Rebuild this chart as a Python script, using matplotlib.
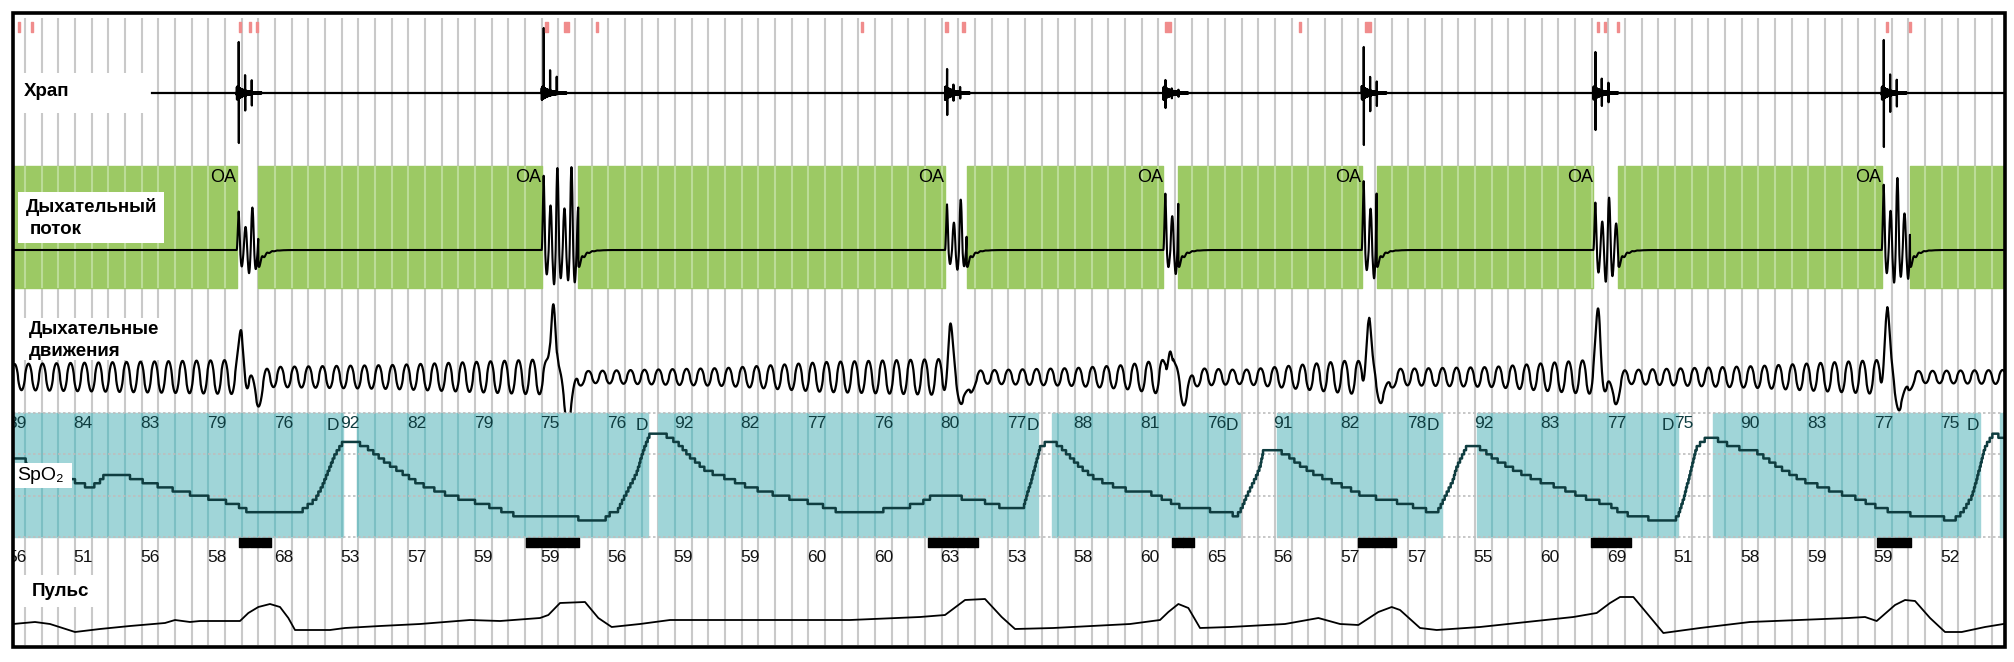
import numpy as np
import matplotlib
matplotlib.use("Agg")
import matplotlib.pyplot as plt

plt.rcParams['font.family'] = ['Liberation Sans', 'DejaVu Sans']

W, H, DPI = 2015, 662, 100
PX_PER_T = 16.667      # one grid division, pixels
X0_PX = 25             # first grid line, pixels


def px_to_t(px):
    return (px - X0_PX) / PX_PER_T


T0, T1 = px_to_t(13), px_to_t(2004)
grid_t = np.arange(0, 119)

# ---------------- data (time in grid divisions) ----------------
event_gaps = [(12.7, 14.0), (31.0, 33.2), (55.2, 56.5), (68.3, 69.2),
              (80.2, 81.1), (94.1, 95.6), (111.4, 113.1)]
flow_up = [43, 83, 51, 63, 77, 53, 73]
flow_down = [27, 40, 23, 28, 33, 37, 38]

snore_start = 7.62
snore_up = [51, 65, 24, 13, 46, 41, 53]
snore_down = [50, 5, 22, 15, 52, 37, 54]
red_marks_t = [-0.36, 0.42, 12.9, 13.5, 13.9, 31.3, 32.5, 34.3, 50.2, 55.3,
               56.3, 68.6, 76.5, 80.6, 94.4, 94.8, 95.6, 111.7, 113.1]
red_marks_w = [0.12, 0.12, 0.15, 0.12, 0.12, 0.18, 0.3, 0.12, 0.12, 0.2,
               0.15, 0.35, 0.12, 0.35, 0.12, 0.12, 0.12, 0.12, 0.12]

move_amp = [(-0.72, 13), (12.4, 17), (14.6, 10), (22, 12), (30.8, 17.5),
            (33.8, 6), (42, 9), (48, 15), (55.0, 18), (57.0, 6.5), (63, 9),
            (66, 12), (68.2, 17), (70, 9), (73, 7), (79.8, 17), (81.8, 8),
            (88, 10), (93.8, 17), (96.2, 7), (104, 11), (111.2, 17),
            (113.6, 6), (118.7, 7)]
move_spike_t = [13.0, 31.7, 55.5, 68.7, 80.6, 94.4, 111.7]
move_spike = [40, 87, 44, 40, 61, 57, 69]
move_dip = [20, 36, 25, 18, 20, 22, 28]

spo2_gaps = [(19.1, 19.9), (37.4, 38.0), (60.8, 61.6), (72.9, 75.1),
             (85.0, 87.1), (99.2, 101.3), (117.3, 118.5)]
desat_label_t = [18.5, 37.0, 60.45, 72.4, 84.5, 98.55, 116.9]
spo2_readings = [
    (-0.72, 89), (0.0, 89), (0.2, 85), (2.7, 84), (3.3, 83), (3.9, 82), (4.4, 83),
    (4.8, 85), (6.0, 85), (6.6, 84), (7.5, 83), (8.4, 82), (9.3, 81), (10.5, 80),
    (11.5, 79), (12.6, 78), (13.5, 76), (16.5, 76), (16.8, 77), (17.4, 79),
    (17.8, 82), (18.3, 87), (18.6, 90), (19.1, 93), (19.8, 93),
    (20.4, 92), (21.7, 88), (23.6, 83), (25.5, 80), (27.5, 78), (29.3, 75.5),
    (31.5, 75), (33.1, 75), (33.3, 74), (34.7, 74), (35.2, 76), (35.5, 76),
    (36.0, 80), (36.7, 85.5), (37.1, 91), (37.5, 95), (38.3, 95),
    (39.1, 93), (39.9, 89.5), (40.9, 86), (42.3, 84), (43.5, 82), (45.3, 80),
    (47.5, 78), (49.4, 75.5), (50.7, 76), (51.5, 76.5), (52.5, 77), (53.7, 78),
    (54.5, 80), (55.9, 80), (56.5, 79), (57.2, 79), (58.0, 78), (58.9, 77),
    (59.9, 77), (60.1, 80), (60.4, 84), (60.7, 88.6), (60.9, 91.5), (61.3, 93),
    (61.7, 93),
    (62.1, 92), (62.7, 89.5), (63.3, 87), (64.1, 84.5), (64.9, 83), (66.1, 81.4),
    (67.5, 80.6), (68.5, 79), (69.5, 77), (71.1, 76.5), (72.3, 75.8), (72.7, 75),
    (73.0, 77), (73.3, 80), (73.8, 84), (74.1, 87), (74.3, 91), (75.1, 91),
    (75.7, 90), (76.3, 88), (77.3, 85.5), (78.1, 84), (79.3, 82), (80.3, 80),
    (81.2, 79.4), (82.0, 78.7), (82.8, 78.2), (83.6, 77), (84.7, 75.8), (85.0, 78),
    (85.3, 80.6), (85.7, 84), (85.9, 87), (86.2, 89.4), (86.5, 92), (87.1, 92),
    (87.5, 91), (88.3, 88.6), (89.4, 86.2), (90.7, 83.8), (92.1, 82), (93.5, 79.7),
    (95.1, 77.7), (95.7, 76), (96.8, 74.8), (98.2, 74.1), (98.9, 73.6), (99.2, 75.3),
    (99.5, 79), (99.8, 83.8), (100.1, 88.6), (100.3, 91.8), (100.9, 94), (101.3, 94),
    (102.5, 91.8), (103.9, 90.6), (105.2, 87), (106.6, 83.8), (108.3, 81.4),
    (109.9, 79.4), (111.3, 77), (112.4, 75.8), (114.8, 74.8), (115.7, 74),
    (116.2, 75.8), (116.8, 79.7), (117.3, 87), (117.6, 91.8), (118.1, 95), (118.7, 94),
]
spo2_labels = [89, 84, 83, 79, 76, 92, 82, 79, 75, 76, 92, 82, 77, 76, 80,
               77, 88, 81, 76, 91, 82, 78, 92, 83, 77, 75, 90, 83, 77, 75]
label_t = np.arange(30) * 4 - 0.5

desat_bars = [(12.84, 14.82, 3), (30.06, 33.3, 4), (54.2, 57.2, 4), (68.8, 70.2, 2),
              (80.0, 82.3, 3), (93.96, 96.4, 3), (111.1, 113.2, 2)]

pulse_labels = [56, 51, 56, 58, 68, 53, 57, 59, 59, 56, 59, 59, 60, 60, 63,
                53, 58, 60, 65, 56, 57, 57, 55, 60, 69, 51, 58, 59, 59, 52]
pulse_readings = [
    (-0.72, 55.5), (0.6, 56.5), (1.5, 55.5), (3.0, 51.5), (4.5, 53), (6.3, 54.5),
    (8.4, 56), (9.0, 57.5), (9.9, 56.5), (10.5, 57), (12.9, 57), (13.4, 61),
    (14.0, 64), (14.7, 65.5), (15.3, 64), (15.8, 58.5), (16.2, 52.5), (18.3, 52.5),
    (19.2, 53.5), (21.3, 54.5), (23.7, 55.5), (26.7, 57.5), (28.5, 57), (30.9, 58.5),
    (31.4, 60), (32.1, 66), (33.6, 66.5), (34.4, 58.5), (35.2, 54), (36.9, 55.5),
    (38.7, 57.5), (43.5, 57.5), (49.5, 57.5), (53.7, 59), (55.2, 60), (56.4, 67.5),
    (57.6, 68), (58.6, 59), (59.4, 53), (61.7, 53.5), (66.3, 55.5), (68.1, 57.5),
    (68.6, 61.5), (69.2, 65.5), (69.8, 63.5), (70.5, 53.5), (72.3, 54), (75.6, 55.5),
    (77.6, 58.5), (78.9, 55.5), (80.0, 55), (81.2, 61.5), (82.0, 64), (82.5, 62.5),
    (83.7, 53.5), (84.7, 52.5), (87.3, 54), (92.9, 59), (94.3, 61), (95.1, 66),
    (95.7, 69), (96.5, 69), (97.3, 61), (98.3, 51), (100.5, 53.5), (103.5, 56.5),
    (109.4, 58.5), (110.4, 59), (111.1, 57), (112.2, 65), (112.8, 67.5), (113.4, 67),
    (114.3, 58.5), (115.2, 51.5), (116.2, 51.5), (117.6, 54), (118.7, 55.5),
]

GREEN, GREEN_LINE = '#9cc964', '#bcdc98'
TEAL, TEAL_LINE = '#a0d5d8', '#7cbfc3'
GRID = '#c9c9c9'
DARK = '#0f3d40'


def segments_between(gaps):
    edges = [T0] + [v for g in gaps for v in g] + [T1]
    return [(edges[i], edges[i + 1]) for i in range(0, len(edges), 2)]


fig = plt.figure(figsize=(W / DPI, H / DPI), dpi=DPI)

bg = fig.add_axes([0, 0, 1, 1], zorder=0)
bg.set_xlim(px_to_t(0), px_to_t(W))
bg.set_ylim(H, 0)
bg.axis('off')
bg.vlines(grid_t, 18, 645, color=GRID, lw=1.5)


def track(top, bottom, ylim, z):
    ax = fig.add_axes([13 / W, 1 - bottom / H, (2004 - 13) / W, (bottom - top) / H], zorder=z)
    ax.set_xlim(T0, T1)
    ax.set_ylim(*ylim)
    ax.patch.set_alpha(0)
    ax.axis('off')
    return ax


def band_with_grid(ax, segs, lo, hi, color, line_color):
    ax.broken_barh([(a, b - a) for a, b in segs], (lo, hi - lo), color=color, zorder=1)
    for a, b in segs:
        tl = grid_t[(grid_t > a) & (grid_t < b)]
        ax.vlines(tl, lo, hi, color=line_color, lw=1.5, zorder=2)


# ---- snore ----
ax_sn = track(15, 160, (-67, 78), 2)
ts = np.arange(snore_start, T1, 0.004)
ys = np.zeros_like(ts)
for (g0, g1), up, dn in zip(event_gaps, snore_up, snore_down):
    m = (ts >= g0) & (ts <= g0 + 1.5)
    ys[m] += 7 * np.exp(-(ts[m] - g0) / 0.5) * np.sin(2 * np.pi * ts[m] / 0.021)
    i = np.searchsorted(ts, g0 + 0.12)
    ys[i], ys[i + 2] = up, -dn
    for k, f in ((0.5, 0.35), (0.9, 0.25)):
        j = np.searchsorted(ts, g0 + k)
        ys[j], ys[j + 2] = f * up, -f * dn
ax_sn.plot(ts, ys, color='k', lw=1.6, zorder=3)
ax_sn.broken_barh([(t - w / 2, w) for t, w in zip(red_marks_t, red_marks_w)], (61, 10),
                  color='#f08c8c', zorder=3)

# ---- flow ----
ax_fl = track(150, 300, (-50, 100), 3)
band_with_grid(ax_fl, segments_between(event_gaps), -38, 84, GREEN, GREEN_LINE)
tf = np.arange(T0, T1, 0.005)
yf = np.zeros_like(tf)
for (g0, g1), up, dn in zip(event_gaps, flow_up, flow_down):
    m = (tf >= g0) & (tf <= g1)
    s = np.sin(2 * np.pi * (tf[m] - g0) / 0.42)
    env = np.clip((tf[m] - g0) / 0.12, 0, 1) * (0.75 + 0.25 * np.cos(2 * np.pi * (tf[m] - g0) / 0.9))
    yf[m] = np.where(s > 0, s * up, s * dn) * env
    r = tf > g1
    yf[r] += -16 * np.exp(-(tf[r] - g1) / 0.35) * (1 + 0.25 * np.sin(2 * np.pi * (tf[r] - g1) / 0.3))
ax_fl.plot(tf, yf, color='k', lw=1.5, zorder=3)
for g0, g1 in event_gaps:
    ax_fl.text(g0 - 0.03, 72, 'OA', ha='right', va='center', fontsize=13, color='k', zorder=4)

# ---- respiratory movements ----
ax_mv = track(280, 420, (-43, 97), 4)
tm = np.arange(T0, T1, 0.005)
amp = np.interp(tm, *np.array(move_amp).T)
s = np.sin(2 * np.pi * tm / 0.84)
ym = amp * np.sign(s) * np.abs(s) ** 0.7
for tp, h, d in zip(move_spike_t, move_spike, move_dip):
    ym += h * np.exp(-((tm - tp) / 0.2) ** 2) - d * np.exp(-((tm - tp - 0.9) / 0.4) ** 2)
ax_mv.plot(tm, ym, color='k', lw=1.6, zorder=3)

# ---- SpO2 ----
ax_sp = track(405, 550, (66.85, 101.94), 5)
band_with_grid(ax_sp, segments_between(spo2_gaps), 70, 100, TEAL, TEAL_LINE)
ax_sp.hlines([70, 80, 90, 100], T0, T1, colors='#bdbdbd', linestyles=(0, (1.5, 1.5)), lw=1.2, zorder=2)
sp_t, sp_v = np.array(spo2_readings).T
tq = np.arange(T0, T1, 0.02)
ax_sp.plot(tq, np.round(np.interp(tq, sp_t, sp_v)), drawstyle='steps-post',
           color=DARK, lw=1.8, zorder=3)
for t, v in zip(label_t, spo2_labels):
    ax_sp.text(t, 97.4, str(v), ha='center', va='center', fontsize=12.5, color=DARK,
               zorder=4, clip_on=True)
for t in desat_label_t:
    ax_sp.text(t, 96.9, 'D', ha='center', va='center', fontsize=12.5, color=DARK, zorder=4)
bars = []
for a, b, n in desat_bars:
    w = (b - a) / n
    bars += [(a + i * w, w - 0.05) for i in range(n)]
ax_sp.broken_barh(bars, (67.6, 2.2), color='k', zorder=3)

# ---- pulse ----
ax_pu = track(548, 645, (45, 93.5), 6)
pu_t, pu_v = np.array(pulse_readings).T
ax_pu.plot(pu_t, pu_v, color='k', lw=1.3, zorder=3)
for t, v in zip(label_t, pulse_labels):
    ax_pu.text(t, 89, str(v), ha='center', va='center', fontsize=12.5, color='#111111',
               zorder=4, clip_on=True)

# ---- labels and frame ----
top = fig.add_axes([0, 0, 1, 1], zorder=20)
top.set_xlim(0, W)
top.set_ylim(H, 0)
top.axis('off')
top.patch.set_alpha(0)
for x0, y0, x1, y1 in [(13, 73, 150, 113), (18, 192, 164, 243), (13, 318, 160, 360),
                       (15, 463, 72, 488), (13, 575, 100, 607)]:
    top.add_patch(plt.Rectangle((x0, y0), x1 - x0, y1 - y0, color='white', lw=0))
bold = dict(fontsize=13.5, fontweight='bold', va='center', ha='left', color='k')
top.text(24, 91, 'Храп', **bold)
top.text(26, 207, 'Дыхательный', **bold)
top.text(30, 230, 'поток', **bold)
top.text(29, 330, 'Дыхательные', **bold)
top.text(29, 352, 'движения', **bold)
top.text(32, 592, 'Пульс', **bold)
top.text(17, 476, 'SpO₂', fontsize=14, va='center', ha='left', color='k')
top.add_patch(plt.Rectangle((13, 13), 2005 - 13, 647 - 13, fill=False, ec='k', lw=2.6))

fig.savefig('out.png', dpi=DPI)
